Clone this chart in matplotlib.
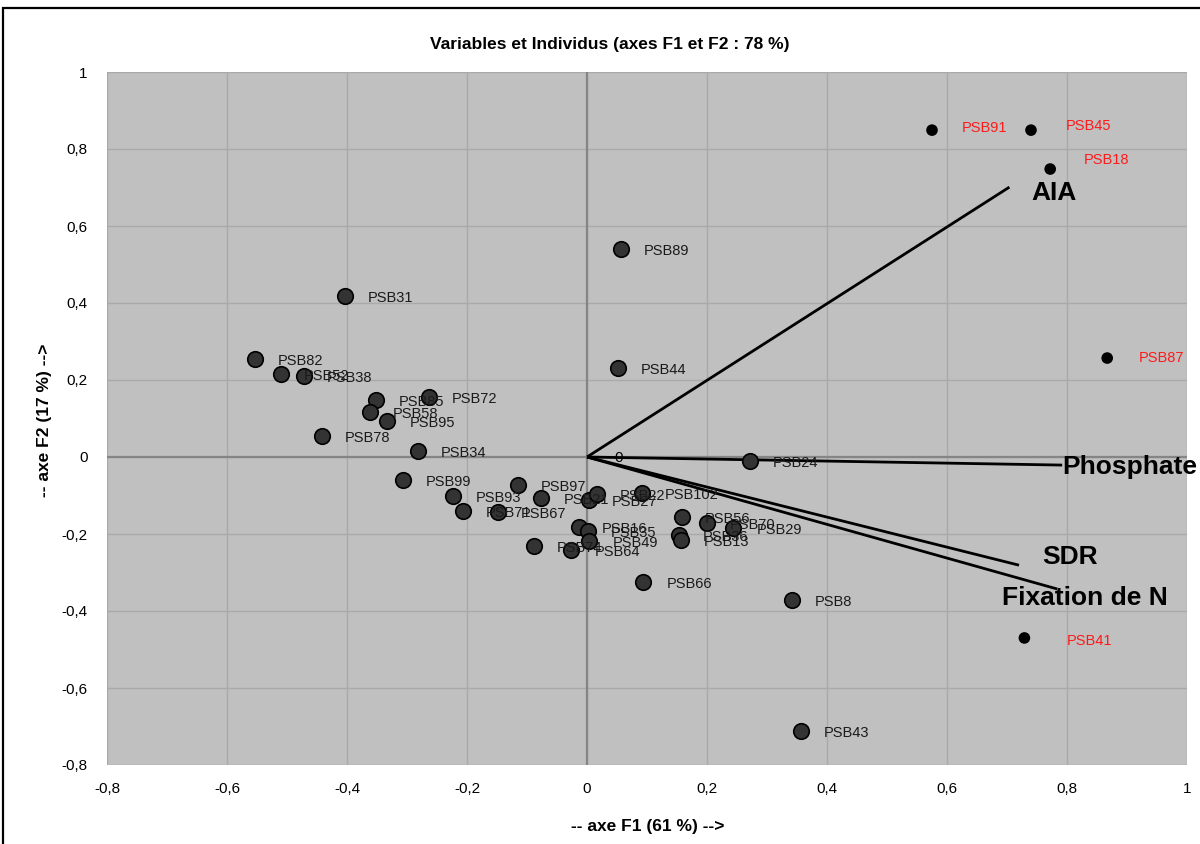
import matplotlib
matplotlib.use("Agg")
import matplotlib.pyplot as plt
from matplotlib.patches import Rectangle
from matplotlib.ticker import FuncFormatter

plt.rcParams['font.family'] = ['Liberation Sans', 'DejaVu Sans']

# Individuals (gray points)
ind_names = ["PSB82", "PSB52", "PSB38", "PSB31", "PSB85", "PSB58", "PSB95", "PSB72",
             "PSB78", "PSB34", "PSB99", "PSB93", "PSB71", "PSB67", "PSB97", "PSB21",
             "PSB27", "PSB22", "PSB102", "PSB16", "PSB35", "PSB49", "PSB74", "PSB64",
             "PSB56", "PSB36", "PSB13", "PSB70", "PSB29", "PSB89", "PSB44", "PSB24",
             "PSB66", "PSB8", "PSB43"]
ind_f1 = [-0.554, -0.510, -0.472, -0.404, -0.352, -0.362, -0.334, -0.264,
          -0.442, -0.282, -0.307, -0.224, -0.207, -0.149, -0.115, -0.077,
          0.003, 0.016, 0.092, -0.014, 0.001, 0.004, -0.089, -0.026,
          0.158, 0.154, 0.156, 0.200, 0.244, 0.056, 0.051, 0.271,
          0.094, 0.342, 0.357]
ind_f2 = [0.255, 0.216, 0.210, 0.418, 0.148, 0.117, 0.094, 0.156,
          0.055, 0.016, -0.060, -0.101, -0.140, -0.143, -0.073, -0.106,
          -0.112, -0.096, -0.094, -0.182, -0.192, -0.218, -0.231, -0.242,
          -0.156, -0.203, -0.216, -0.171, -0.184, 0.540, 0.231, -0.010,
          -0.325, -0.371, -0.712]

# Highlighted individuals (red labels)
red_names = ["PSB91", "PSB45", "PSB18", "PSB87", "PSB41"]
red_f1 = [0.575, 0.740, 0.772, 0.867, 0.729]
red_f2 = [0.849, 0.849, 0.748, 0.257, -0.470]
red_offsets = [(21.6, 1.4), (25.2, 2.9), (24.5, 6.5), (23.0, 0.0), (30.2, -2.2)]

# Variables (vectors)
var_names = ["AIA", "Phosphate", "SDR", "Fixation de N"]
var_f1 = [0.704, 0.792, 0.720, 0.784]
var_f2 = [0.701, -0.021, -0.281, -0.343]
var_offsets = [(15.8, -4.3), (0.0, -1.4), (16.6, 5.8), (-39.6, -6.5)]

xticks = [-0.8, -0.6, -0.4, -0.2, 0, 0.2, 0.4, 0.6, 0.8, 1]
yticks = [-0.8, -0.6, -0.4, -0.2, 0, 0.2, 0.4, 0.6, 0.8, 1]

fig = plt.figure(figsize=(12, 8.44), dpi=100)
ax = fig.add_axes([107/1200, 1-765/844, (1187-107)/1200, (765-72)/844])
ax.set_facecolor('#c0c0c0')
ax.set_xlim(-0.8, 1)
ax.set_ylim(-0.8, 1)
ax.set_xticks(xticks)
ax.set_yticks(yticks)
fmt = FuncFormatter(lambda v, p: ('%g' % round(v, 2)).replace('.', ','))
ax.xaxis.set_major_formatter(fmt)
ax.yaxis.set_major_formatter(fmt)
ax.tick_params(length=0, labelsize=11, pad=12)
ax.tick_params(axis='y', pad=14)
for s in ax.spines.values():
    s.set_visible(False)
ax.grid(True, color='#a9a9a9', linewidth=1.0)
ax.set_axisbelow(True)
ax.axhline(0, color='#858585', linewidth=1.6, zorder=1)
ax.axvline(0, color='#858585', linewidth=1.6, zorder=1)

# variable vectors
for n, x, y, off in zip(var_names, var_f1, var_f2, var_offsets):
    ax.plot([0, x], [0, y], color='black', linewidth=2.0, zorder=2,
            solid_capstyle='butt')
    ax.annotate(n, (x, y), xytext=off, textcoords='offset points',
                ha='left', va='center', fontsize=19, fontweight='bold',
                color='black', zorder=5, annotation_clip=False)
ax.annotate("0", (0, 0), xytext=(20, -1), textcoords='offset points',
            ha='left', va='center', fontsize=11, color='black', zorder=5)

# individuals
ax.scatter(ind_f1, ind_f2, s=125, facecolor='#333333', edgecolor='black',
           linewidth=1.2, zorder=3)
for n, x, y in zip(ind_names, ind_f1, ind_f2):
    ax.annotate(n, (x, y), xytext=(16.5, -1.5), textcoords='offset points',
                ha='left', va='center', fontsize=10.5, color='#1a1a1a', zorder=4)

ax.scatter(red_f1, red_f2, s=70, facecolor='black', edgecolor='none', zorder=3)
for n, x, y, off in zip(red_names, red_f1, red_f2, red_offsets):
    ax.annotate(n, (x, y), xytext=off, textcoords='offset points',
                ha='left', va='center', fontsize=10.5, color='#ff1a1a', zorder=4)

fig.text(610/1200, 1-45/844, "Variables et Individus (axes F1 et F2 : 78 %)",
         ha='center', va='center', fontsize=12.5, fontweight='bold')
fig.text(648/1200, 1-826/844, "-- axe F1 (61 %) -->",
         ha='center', va='center', fontsize=12.5, fontweight='bold')
fig.text(45/1200, 1-420/844, "-- axe F2 (17 %) -->", rotation=90,
         ha='center', va='center', fontsize=12.5, fontweight='bold')

fig.patches.append(Rectangle((3/1200, -0.05), 1.2, 1-8/844+0.05,
                             transform=fig.transFigure, fill=False,
                             edgecolor='black', linewidth=1.6, zorder=10))

fig.savefig('out.png', dpi=100, facecolor='white')
